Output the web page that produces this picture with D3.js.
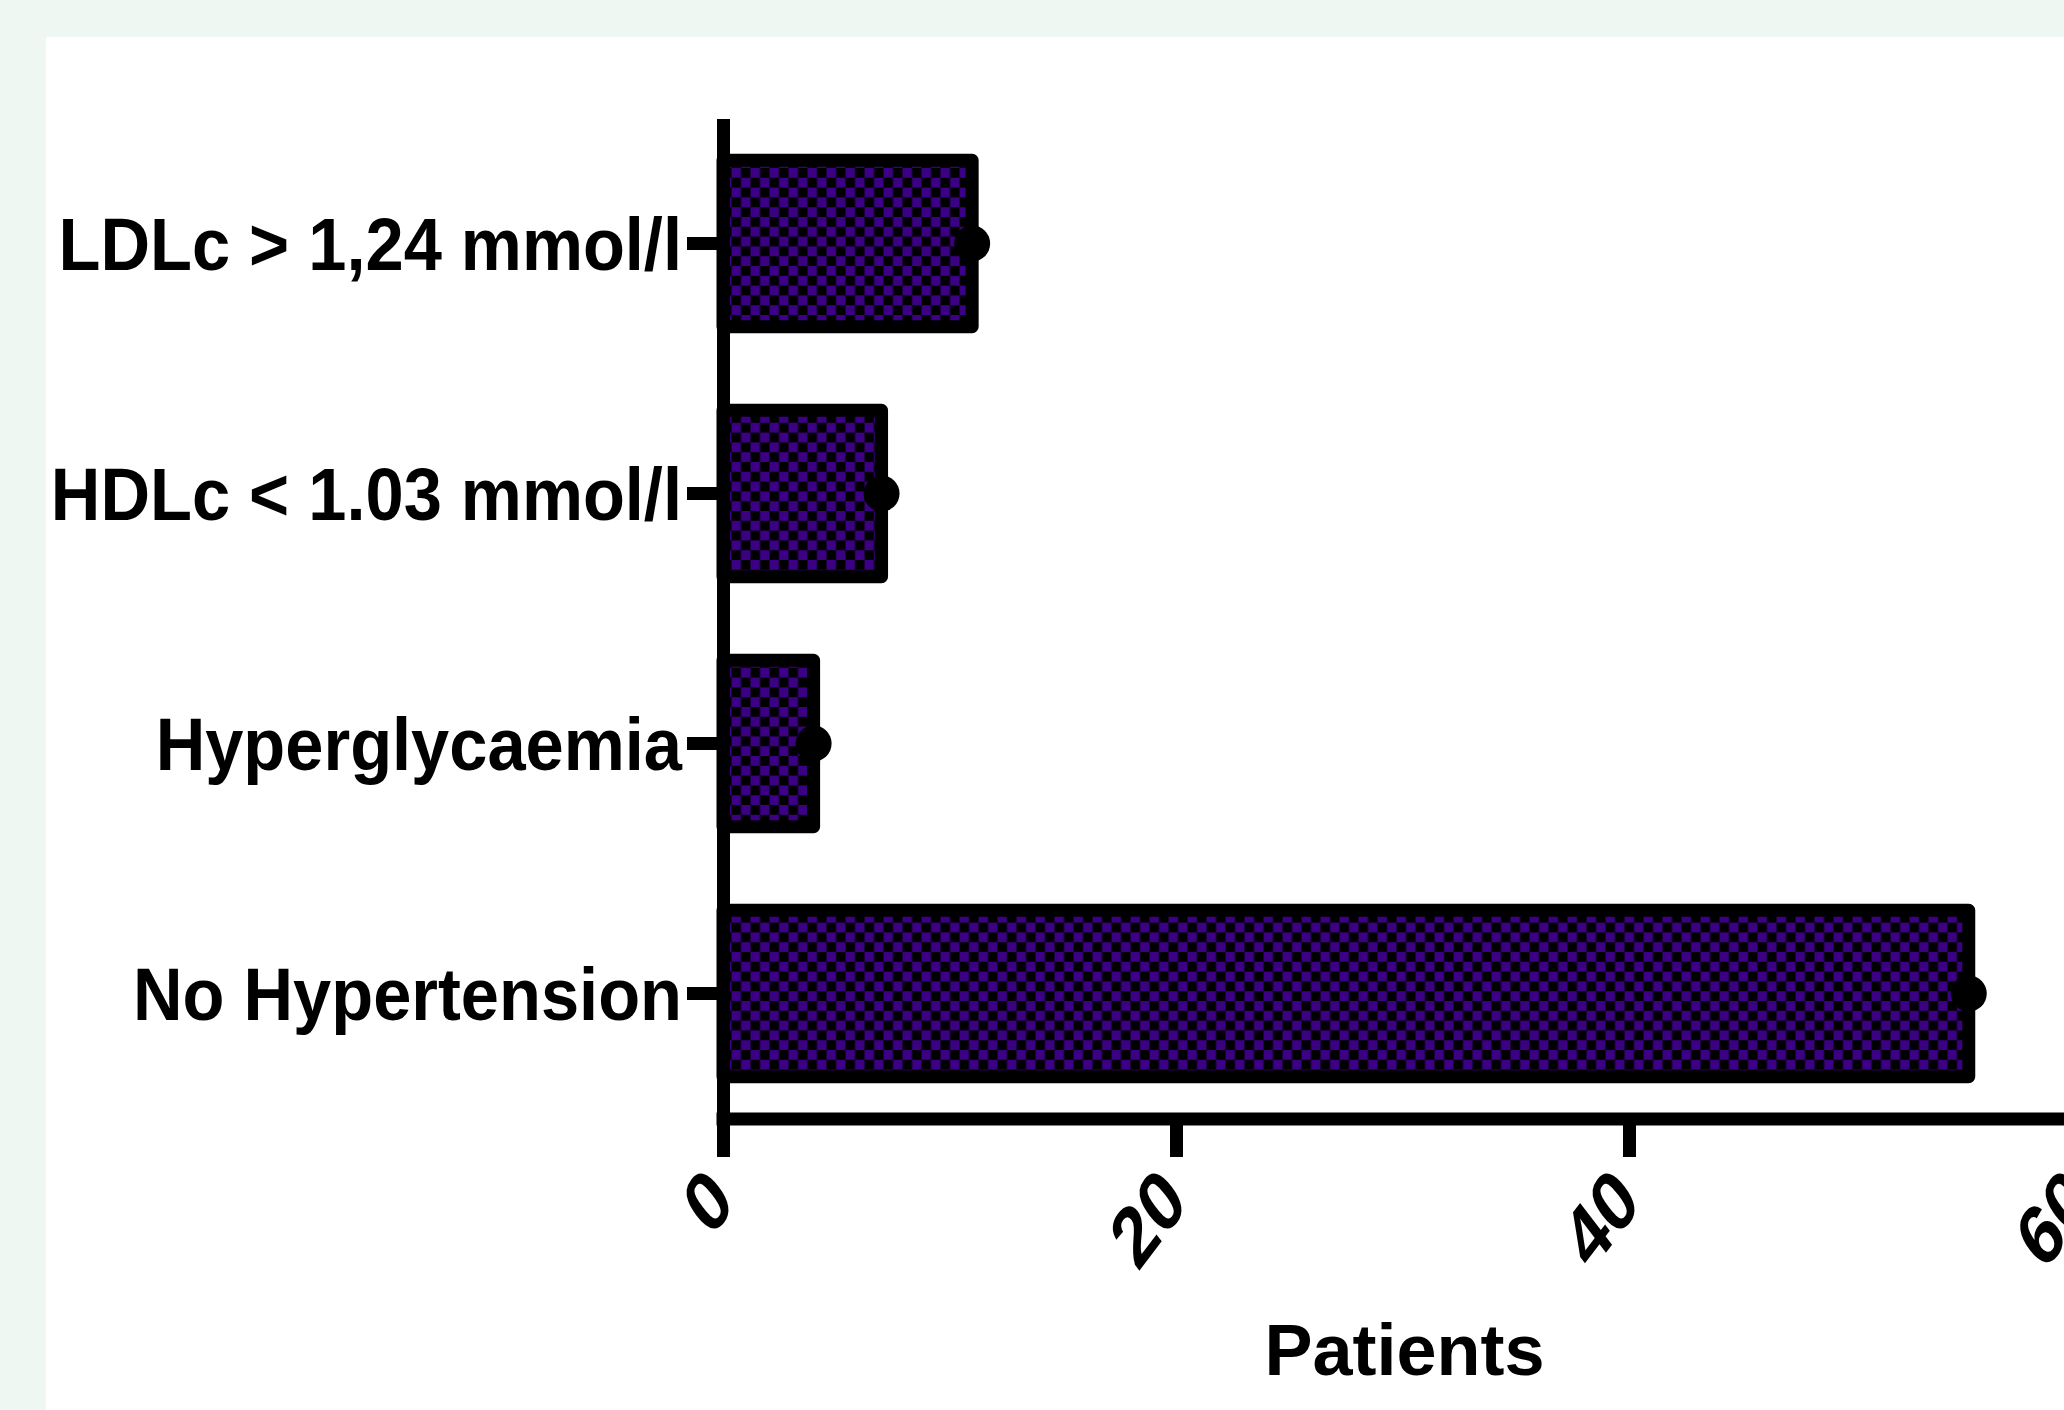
<!DOCTYPE html>
<html>
<head>
<meta charset="utf-8">
<script src="https://cdn.jsdelivr.net/npm/d3@7"></script>
<style>
  html, body { margin: 0; padding: 0; background: #eef7f2; }
  svg { display: block; }
  text { font-family: "Liberation Sans", Arial, sans-serif; font-weight: bold; fill: #000; }
</style>
</head>
<body>
<div id="chart"></div>
<script>
// data
var categories = ['LDLc > 1,24 mmol/l', 'HDLc < 1.03 mmol/l', 'Hyperglycaemia', 'No Hypertension']
var patients = [11, 7, 4, 55]
var xTicks = [0, 20, 40, 60]
var xTitle = 'Patients'

var W = 2064,
    H = 1410,
    x0 = 723,      // y axis position
    xAxisY = 1119, // x axis position
    lineW = 13

var svg = d3.select('#chart')
    .append('svg')
    .attr('width', W)
    .attr('height', H)

// white panel
svg.append('rect')
    .attr('x', 46).attr('y', 37)
    .attr('width', W - 46).attr('height', H - 37)
    .attr('fill', '#fff')

// checker fill
var defs = svg.append('defs')
var pat = defs.append('pattern')
    .attr('id', 'checker')
    .attr('patternUnits', 'userSpaceOnUse')
    .attr('x', 731.5).attr('y', 168)
    .attr('width', 19).attr('height', 19.6)
pat.append('rect').attr('width', 19).attr('height', 19.6).attr('fill', '#000')
pat.append('rect').attr('x', 0).attr('y', 0).attr('width', 9.5).attr('height', 9.8).attr('fill', '#3c0084')
pat.append('rect').attr('x', 9.5).attr('y', 9.8).attr('width', 9.5).attr('height', 9.8).attr('fill', '#3c0084')

var x = d3.scaleLinear().domain([0, 60]).range([x0, 2082])
var y = d3.scaleBand()
    .domain(categories)
    .range([118.5, 1118.5])
    .paddingInner(0.334)
    .paddingOuter(0.167)

// bars
svg.selectAll('rect.bar')
    .data(patients)
    .enter()
    .append('rect')
    .attr('class', 'bar')
    .attr('x', x(0))
    .attr('y', function (d, i) { return y(categories[i]) })
    .attr('width', function (d) { return x(d) - x(0) })
    .attr('height', y.bandwidth())
    .attr('fill', 'url(#checker)')
    .attr('stroke', '#000')
    .attr('stroke-width', lineW)
    .attr('stroke-linejoin', 'round')

// dots at bar ends
svg.selectAll('circle.dot')
    .data(patients)
    .enter()
    .append('circle')
    .attr('class', 'dot')
    .attr('cx', function (d) { return x(d) })
    .attr('cy', function (d, i) { return y(categories[i]) + y.bandwidth() / 2 })
    .attr('r', 18)
    .attr('fill', '#000')

// y axis
var gy = svg.append('g')
    .attr('transform', 'translate(' + x0 + ',0)')
    .call(d3.axisLeft(y).tickSize(36).tickSizeOuter(0).tickPadding(0))
gy.select('.domain').attr('stroke', '#000').attr('stroke-width', lineW)
gy.selectAll('.tick line').attr('stroke', '#000').attr('stroke-width', lineW)
gy.selectAll('.tick text')
    .attr('x', 0)
    .attr('dy', '0.35em')
    .attr('transform', 'translate(-41,0) scale(0.915,1)')
    .style('font-size', '75px')

// x axis
var gx = svg.append('g')
    .attr('transform', 'translate(0,' + xAxisY + ')')
    .call(d3.axisBottom(x).tickValues(xTicks).tickSize(38).tickSizeOuter(0))
gx.select('.domain').attr('stroke', '#000').attr('stroke-width', lineW)
    .attr('d', 'M' + (x0 - 6.5) + ',0H' + x.range()[1])
gx.selectAll('.tick line').attr('stroke', '#000').attr('stroke-width', lineW)
gx.selectAll('.tick text')
    .attr('x', 0).attr('y', 0).attr('dy', 0)
    .attr('text-anchor', 'end')
    .attr('transform', 'translate(13,86) scale(0.9,1.18) rotate(-45)')
    .style('font-size', '73px')

// axis title
svg.append('text')
    .attr('x', (x.range()[0] + x.range()[1]) / 2 + 2)
    .attr('y', 1375)
    .attr('text-anchor', 'middle')
    .style('font-size', '72px')
    .text(xTitle)
</script>
</body>
</html>
